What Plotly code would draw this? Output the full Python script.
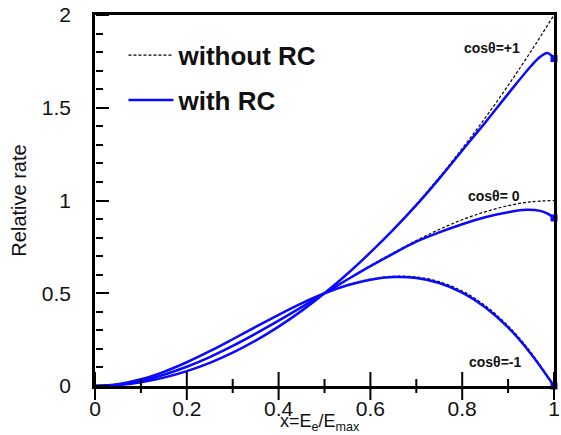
import plotly.graph_objects as go

# Michel spectrum: relative decay rate vs reduced positron energy
x_tree = [0.0, 0.05, 0.1, 0.15, 0.2, 0.25, 0.3, 0.35, 0.4, 0.45, 0.5,
          0.55, 0.6, 0.65, 0.7, 0.75, 0.8, 0.85, 0.9, 0.95, 1.0]

# without radiative corrections
tree_p1 = [0.0, 0.005, 0.02, 0.045, 0.08, 0.125, 0.18, 0.245, 0.32, 0.405, 0.5,
           0.605, 0.72, 0.845, 0.98, 1.125, 1.28, 1.445, 1.62, 1.805, 2.0]
tree_0 = [0.0, 0.007, 0.028, 0.061, 0.104, 0.156, 0.216, 0.282, 0.352, 0.425, 0.5,
          0.575, 0.648, 0.718, 0.784, 0.844, 0.896, 0.939, 0.972, 0.993, 1.0]
tree_m1 = [0.0, 0.0095, 0.036, 0.0765, 0.128, 0.1875, 0.252, 0.3185, 0.384, 0.4455, 0.5,
           0.5445, 0.576, 0.5915, 0.588, 0.5625, 0.512, 0.4335, 0.324, 0.1805, 0.0]

# with radiative corrections
x_rc_p1 = [0.0, 0.05, 0.1, 0.15, 0.2, 0.25, 0.3, 0.35, 0.4, 0.45, 0.5,
           0.55, 0.6, 0.65, 0.7, 0.75, 0.8, 0.85, 0.9, 0.95, 0.97, 0.985, 0.993, 1.0]
rc_p1 = [0.0, 0.005, 0.02, 0.045, 0.08, 0.125, 0.18, 0.245, 0.32, 0.405, 0.5,
         0.605, 0.72, 0.843, 0.975, 1.118, 1.27, 1.42, 1.575, 1.725, 1.775, 1.795, 1.785, 1.765]

x_rc_0 = [0.0, 0.05, 0.1, 0.15, 0.2, 0.25, 0.3, 0.35, 0.4, 0.45, 0.5,
          0.55, 0.6, 0.65, 0.7, 0.75, 0.8, 0.85, 0.9, 0.94, 0.97, 0.985, 1.0]
rc_0 = [0.0, 0.007, 0.028, 0.061, 0.104, 0.156, 0.216, 0.282, 0.352, 0.425, 0.5,
        0.574, 0.646, 0.714, 0.778, 0.828, 0.872, 0.91, 0.937, 0.95, 0.944, 0.93, 0.906]

x_rc_m1 = [0.0, 0.05, 0.1, 0.15, 0.2, 0.25, 0.3, 0.35, 0.4, 0.45, 0.5,
           0.55, 0.6, 0.65, 0.7, 0.75, 0.8, 0.85, 0.9, 0.95, 1.0]
rc_m1 = [0.0, 0.0095, 0.036, 0.0765, 0.128, 0.1875, 0.252, 0.3185, 0.384, 0.4455, 0.5,
         0.543, 0.573, 0.587, 0.582, 0.555, 0.503, 0.425, 0.316, 0.173, 0.0]

curve_labels = ["cos\u03b8=+1", "cos\u03b8= 0", "cos\u03b8=-1"]
label_x = [0.93, 0.93, 0.934]
label_y = [1.822, 1.022, 0.128]

# tick positions along x (labelled every 0.2, minor marks between)
x_major_ticks = [0.0, 0.2, 0.4, 0.6, 0.8, 1.0]
x_tick_text = ["0", "0.2", "0.4", "0.6", "0.8", "1"]
x_minor_ticks = [0.1, 0.3, 0.5, 0.7, 0.9]

X_RANGE = [0, 1]
Y_RANGE = [0, 2]

BLUE = "#0a0aff"
FONT = "Liberation Sans, Arial, sans-serif"
TXT = "#111"

fig = go.Figure()

for i, yy in enumerate([tree_p1, tree_0, tree_m1]):
    fig.add_trace(go.Scatter(
        x=x_tree, y=yy, mode="lines", line_shape="spline",
        line=dict(color="black", width=1.2, dash="3px,2px"),
        name="without RC", legendgroup="a", showlegend=(i == 0)))

for i, (xx, yy) in enumerate([(x_rc_p1, rc_p1), (x_rc_0, rc_0), (x_rc_m1, rc_m1)]):
    fig.add_trace(go.Scatter(
        x=xx, y=yy, mode="lines", line_shape="spline",
        line=dict(color=BLUE, width=2.5),
        name="with RC", legendgroup="b", showlegend=(i == 0)))
    # end-point marker at x = 1
    fig.add_trace(go.Scatter(
        x=[xx[-1]], y=[yy[-1]], mode="markers", cliponaxis=False,
        marker=dict(symbol="square", size=7, color=BLUE),
        showlegend=False, hoverinfo="skip"))

for t, lx, ly in zip(curve_labels, label_x, label_y):
    fig.add_annotation(x=lx, y=ly, text="<b>" + t + "</b>", showarrow=False,
                       xanchor="right", yanchor="middle",
                       font=dict(family=FONT, size=14, color=TXT))

# x-axis title
fig.add_annotation(x=0.49, y=-0.099, xref="paper", yref="paper",
                   text="x=E<sub>e</sub>/E<sub>max</sub>", showarrow=False,
                   xanchor="center", yanchor="middle",
                   font=dict(family=FONT, size=18, color=TXT))

tickfont = dict(family=FONT, size=21, color=TXT)

# main axes: frame and tick labels
fig.update_xaxes(
    range=X_RANGE, tickmode="array", tickvals=x_major_ticks, ticktext=x_tick_text,
    ticks="", ticklabelstandoff=2,
    showline=True, linecolor="black", linewidth=2.5, mirror=True,
    showgrid=False, zeroline=False, tickfont=tickfont, automargin=False)
fig.update_yaxes(
    range=Y_RANGE, tickmode="linear", tick0=0, dtick=0.5, ticks="",
    showline=True, linecolor="black", linewidth=2.5, mirror=True,
    showgrid=False, zeroline=False, tickfont=tickfont, automargin=False,
    ticklabelstandoff=17,
    title=dict(text="Relative rate", standoff=10,
               font=dict(family=FONT, size=20, color=TXT)))

# y tick marks pointing into the plot, carried by label-less overlay axes
def tick_axis_y(dtick, length):
    return dict(range=Y_RANGE, overlaying="y", anchor="free", position=0, side="right",
                tickmode="linear", tick0=0, dtick=dtick, ticks="outside",
                ticklen=length, tickwidth=2, tickcolor="black",
                showticklabels=False, showgrid=False, zeroline=False,
                showline=False, automargin=False)

fig.update_layout(yaxis2=tick_axis_y(0.5, 13), yaxis3=tick_axis_y(0.1, 7))
for ax_y in ["y2", "y3"]:
    fig.add_trace(go.Scatter(x=X_RANGE, y=Y_RANGE, yaxis=ax_y, mode="markers",
                             marker=dict(opacity=0), showlegend=False, hoverinfo="skip"))

# x tick marks rising from the bottom frame: vertical line markers sitting on y = 0
for ticks, size in [(x_major_ticks, 20), (x_minor_ticks, 10)]:
    fig.add_trace(go.Scatter(
        x=ticks, y=[Y_RANGE[0]] * len(ticks), mode="markers", cliponaxis=False,
        marker=dict(symbol="line-ns", size=size, line=dict(color="black", width=2)),
        showlegend=False, hoverinfo="skip"))

fig.update_layout(
    width=561, height=435,
    margin=dict(l=95, r=7, t=15, b=49),
    paper_bgcolor="white", plot_bgcolor="white",
    showlegend=True,
    legend=dict(x=0.062, y=0.955, xanchor="left", yanchor="top",
                bgcolor="rgba(0,0,0,0)", borderwidth=0,
                tracegroupgap=8, itemwidth=45,
                font=dict(family=FONT, size=26, color=TXT, weight="bold")),
)

fig.write_html("out.html")
